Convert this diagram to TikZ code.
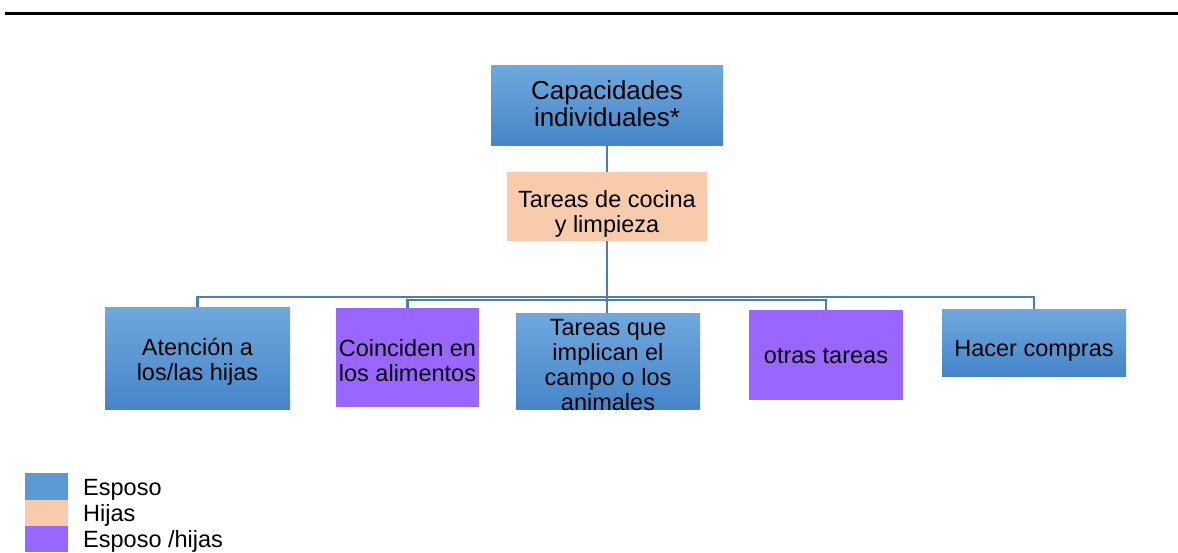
\documentclass[tikz,border=0pt]{standalone}
\usepackage{fontspec}
\setmainfont{Liberation Sans}
\definecolor{bluetop}{HTML}{70A8DE}
\definecolor{bluebot}{HTML}{4585C8}
\definecolor{bluelegend}{HTML}{5B9BD5}
\definecolor{peach}{HTML}{F8CBAD}
\definecolor{purp}{HTML}{9966FF}
\definecolor{conn}{HTML}{4A7EB5}
\begin{document}
\begin{tikzpicture}[x=1pt,y=-1pt,
  box/.style={rectangle,inner sep=0pt},
  txt/.style={inner sep=0pt,align=center,font=\fontsize{23.5}{25}\selectfont},
  bluebox/.style={box,top color=bluetop,bottom color=bluebot},
  peachbox/.style={box,fill=peach},
  purpbox/.style={box,fill=purp},
  link/.style={draw=conn,line width=2.7pt},
  legtext/.style={anchor=base west,inner sep=0pt,font=\fontsize{23.5}{25}\selectfont}]
\useasboundingbox (0,0) rectangle (1178,552);
\draw[line width=2.4pt] (5,13.5) -- (1178,13.5);

\node[bluebox,minimum width=232,minimum height=80,
  label={[txt,font=\fontsize{26}{27}\selectfont,yshift=1pt]center:{Capacidades\\individuales*}}] (top) at (607,105) {};
\node[peachbox,minimum width=200,minimum height=69,
  label={[txt,yshift=-7pt]center:{Tareas de cocina\\y limpieza}}] (cocina) at (607,206.5) {};

\node[bluebox,minimum width=185,minimum height=102,
  label={[txt,yshift=-4pt]center:{Atención a\\los/las hijas}}] (aten) at (197.5,358) {};
\node[purpbox,minimum width=143,minimum height=99,
  label={[txt,yshift=-3pt]center:{Coinciden en\\los alimentos}}] (coin) at (407.5,357.5) {};
\node[bluebox,minimum width=184,minimum height=96,
  label={[txt,yshift=-4pt]center:{Tareas que\\implican el\\campo o los\\animales}}] (campo) at (608,361) {};
\node[purpbox,minimum width=154,minimum height=90,
  label={[txt,yshift=-1pt]center:{otras tareas}}] (otras) at (826,355) {};
\node[bluebox,minimum width=184,minimum height=67,
  label={[txt,yshift=-8pt]center:{Hacer compras}}] (compras) at (1034,342.5) {};

\coordinate (busout) at (0,297);
\coordinate (busin) at (0,300);

\draw[link] (top.south) -- (cocina.north);
\draw[link] (cocina.south) -- (cocina.south |- busout) -| (aten.north);
\draw[link] (cocina.south) -- (cocina.south |- busout) -| (compras.north);
\draw[link] (cocina.south) -- (cocina.south |- busin) -| (coin.north);
\draw[link] (cocina.south) -- (cocina.south |- busin) -| (otras.north);
\draw[link] (cocina.south) -- (cocina.south |- campo.north);

\fill[bluelegend] (25,473) rectangle (68,500);
\fill[peach] (25,500) rectangle (68,526);
\fill[purp] (25,526) rectangle (68,552);
\node[legtext] (l1) at (83,495) {Esposo};
\node[legtext] (l2) at (83,521) {Hijas};
\node[legtext] (l3) at (83,547) {Esposo /hijas};
\end{tikzpicture}
\end{document}
